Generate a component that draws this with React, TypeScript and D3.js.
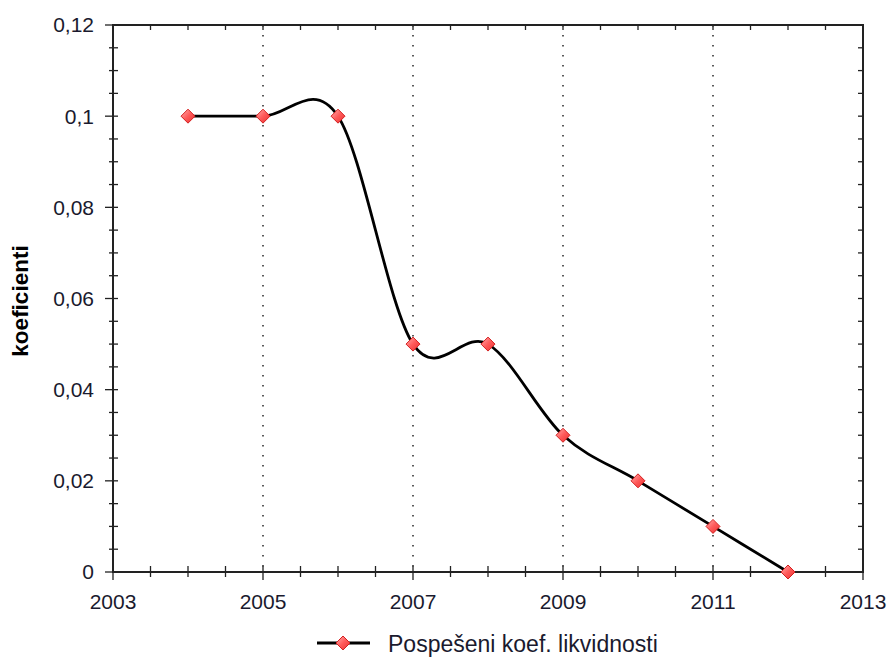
import React from "react";
import * as d3 from "d3";

const years = [2004, 2005, 2006, 2007, 2008, 2009, 2010, 2011, 2012];
const values = [0.1, 0.1, 0.1, 0.05, 0.05, 0.03, 0.02, 0.01, 0];
const xTicks = [2003, 2005, 2007, 2009, 2011, 2013];
const yTicks = [0, 0.02, 0.04, 0.06, 0.08, 0.1, 0.12];
const seriesName = "Pospešeni koef. likvidnosti";
const yLabel = "koeficienti";

const W = 889, H = 657;
const L = 113, R = 863, T = 25, B = 572;

export default function App() {
  const x = d3.scaleLinear().domain([2003, 2013]).range([L, R]);
  const y = d3.scaleLinear().domain([0, 0.12]).range([B, T]);
  const line = d3
    .line<number>()
    .x((_, i) => x(years[i]))
    .y((d) => y(d))
    .curve(d3.curveCardinal.tension(0));
  const fmt = (v: number) => (v === 0 ? "0" : String(+v.toFixed(2)).replace(".", ","));
  const minorX = d3.range(2003, 2013.01, 0.5);
  const minorY = d3.range(0, 0.1201, 0.005);
  const diamond = (cx: number, cy: number, r: number) =>
    `M${cx},${cy - r}L${cx + r},${cy}L${cx},${cy + r}L${cx - r},${cy}Z`;
  const font = "Arial, 'Liberation Sans', sans-serif";
  return (
    <svg width={W} height={H} style={{ position: "absolute", left: 0, top: 0 }}>
      <defs>
        <linearGradient id="mk" x1="0" y1="0" x2="1" y2="1">
          <stop offset="0" stopColor="#ffb0b0" />
          <stop offset="0.5" stopColor="#ff5a5a" />
          <stop offset="1" stopColor="#e83030" />
        </linearGradient>
      </defs>
      <rect x={0} y={0} width={W} height={H} fill="#fff" />
      {/* grid */}
      {xTicks.slice(1, -1).map((t) => (
        <line key={"g" + t} x1={x(t)} x2={x(t)} y1={T} y2={B} stroke="#333" strokeWidth={1.6} strokeDasharray="1.6,8.4" />
      ))}
      {/* ticks */}
      {minorX.map((t, i) => {
        const major = Math.abs(t - Math.round(t)) < 1e-6 && Math.round(t) % 2 === 1;
        return (
          <g key={"tx" + i}>
            <line x1={x(t)} x2={x(t)} y1={B - 6} y2={B + (major ? 8 : 5)} stroke="#222" strokeWidth={1.3} />
            <line x1={x(t)} x2={x(t)} y1={T} y2={T + 5} stroke="#222" strokeWidth={1.3} />
          </g>
        );
      })}
      {minorY.map((t, i) => {
        const major = Math.abs(t / 0.02 - Math.round(t / 0.02)) < 1e-6;
        return (
          <g key={"ty" + i}>
            <line x1={L - (major ? 8 : 4)} x2={L + 5} y1={y(t)} y2={y(t)} stroke="#222" strokeWidth={1.3} />
            <line x1={R - 5} x2={R} y1={y(t)} y2={y(t)} stroke="#222" strokeWidth={1.3} />
          </g>
        );
      })}
      {/* frame */}
      <rect x={L} y={T} width={R - L} height={B - T} fill="none" stroke="#222" strokeWidth={2} />
      {/* labels */}
      {yTicks.map((t) => (
        <text key={"yl" + t} x={L - 19} y={y(t)} dy="0.35em" textAnchor="end" fontFamily={font} fontSize={21} fill="#1a1a2e">
          {fmt(t)}
        </text>
      ))}
      {xTicks.map((t) => (
        <text key={"xl" + t} x={x(t)} y={B + 37} textAnchor="middle" fontFamily={font} fontSize={21} fill="#1a1a2e">
          {t}
        </text>
      ))}
      <text transform={`translate(28,${301}) rotate(-90)`} textAnchor="middle" fontFamily={font} fontSize={22.5} fontWeight="bold" fill="#000">
        {yLabel}
      </text>
      {/* series */}
      <path d={line(values) || ""} fill="none" stroke="#000" strokeWidth={2.8} />
      {values.map((v, i) => (
        <path key={"m" + i} d={diamond(x(years[i]), y(v), 7)} fill="url(#mk)" stroke="#d42020" strokeWidth={1} />
      ))}
      {/* legend */}
      <line x1={317} x2={370} y1={643} y2={643} stroke="#000" strokeWidth={2.8} />
      <path d={diamond(343, 643, 7)} fill="url(#mk)" stroke="#d42020" strokeWidth={1} />
      <text x={388} y={651.5} fontFamily={font} fontSize={23} fill="#1a1a2e">
        {seriesName}
      </text>
    </svg>
  );
}
